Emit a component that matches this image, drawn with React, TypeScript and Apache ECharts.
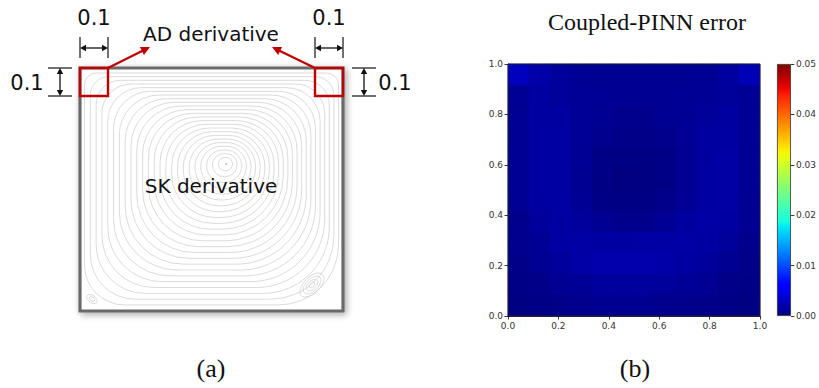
import React, { useEffect, useRef } from 'react';
import * as echarts from 'echarts';

// ---- data ----
const axisTicks = [0, 0.2, 0.4, 0.6, 0.8, 1.0];
const colorbarTicks = [0, 0.01, 0.02, 0.03, 0.04, 0.05];
const cellCenters = ['0.04', '0.13', '0.21', '0.29', '0.38', '0.46', '0.54', '0.63', '0.71', '0.79', '0.88', '0.96'];
// Coupled-PINN absolute error (x 1e-3), rows listed from y = 1 (top) down to y = 0 (bottom)
const errorRows: number[][] = [
  [2.7, 1.8, 1.2, 0.9, 0.8, 0.8, 0.8, 0.8, 0.8, 0.9, 1.4, 2.4],
  [0.9, 1.4, 1.2, 1.0, 0.9, 0.8, 0.8, 0.8, 0.9, 1.0, 1.2, 1.0],
  [0.8, 1.4, 1.4, 1.0, 0.8, 0.6, 0.6, 0.8, 0.9, 1.2, 1.4, 0.9],
  [0.8, 1.5, 1.5, 1.0, 0.6, 0.4, 0.4, 0.6, 0.9, 1.4, 1.5, 0.9],
  [0.8, 1.5, 1.5, 0.9, 0.3, 0.2, 0.2, 0.3, 0.8, 1.4, 1.6, 0.9],
  [0.8, 1.5, 1.5, 0.8, 0.2, 0.0, 0.1, 0.3, 0.8, 1.5, 1.6, 0.9],
  [0.8, 1.4, 1.5, 0.9, 0.3, 0.2, 0.2, 0.5, 0.9, 1.5, 1.6, 0.8],
  [0.6, 1.2, 1.5, 1.2, 0.8, 0.6, 0.6, 0.9, 1.4, 1.6, 1.5, 0.8],
  [0.6, 1.0, 1.5, 1.6, 1.5, 1.5, 1.6, 1.6, 1.6, 1.5, 1.2, 0.6],
  [0.4, 0.8, 1.2, 1.6, 1.9, 1.9, 1.9, 1.8, 1.5, 1.2, 0.8, 0.4],
  [0.3, 0.4, 0.8, 1.0, 1.3, 1.3, 1.3, 1.2, 1.0, 0.8, 0.4, 0.3],
  [0.1, 0.3, 0.4, 0.6, 0.7, 0.7, 0.7, 0.6, 0.6, 0.4, 0.3, 0.1],
];
const colorbarMax = 0.05;
const dimLabel = '0.1';

// ---- jet colormap (matplotlib segment data) ----
const jetR = [[0, 0], [0.35, 0], [0.66, 1], [0.89, 1], [1, 0.5]];
const jetG = [[0, 0], [0.125, 0], [0.375, 1], [0.64, 1], [0.91, 0], [1, 0]];
const jetB = [[0, 0.5], [0.11, 1], [0.34, 1], [0.65, 0], [1, 0]];
function seg(pts: number[][], t: number) {
  for (let i = 1; i < pts.length; i++) {
    if (t <= pts[i][0]) {
      const [x0, y0] = pts[i - 1];
      const [x1, y1] = pts[i];
      return y0 + ((y1 - y0) * (t - x0)) / (x1 - x0 || 1);
    }
  }
  return pts[pts.length - 1][1];
}
function jet(t: number) {
  const c = (v: number) => Math.round(Math.max(0, Math.min(1, v)) * 255);
  return `rgb(${c(seg(jetR, t))},${c(seg(jetG, t))},${c(seg(jetB, t))})`;
}
const jetColors = Array.from({ length: 201 }, (_, i) => jet(i / 200));
const jetStops = Array.from({ length: 41 }, (_, i) => ({ offset: i / 40, color: jet(i / 40) }));

// ---- drawing helpers ----
function arrowHead(x1: number, y1: number, x2: number, y2: number, len: number, hw: number, color: string) {
  const L = Math.hypot(x2 - x1, y2 - y1);
  const dx = (x2 - x1) / L, dy = (y2 - y1) / L;
  const bx = x2 - dx * len, by = y2 - dy * len;
  return {
    type: 'polygon',
    shape: { points: [[x2, y2], [bx - dy * hw, by + dx * hw], [bx + dy * hw, by - dx * hw]] },
    style: { fill: color },
    z: 50,
  };
}
function singleArrow(x1: number, y1: number, x2: number, y2: number, color: string, lw: number, len: number, hw: number) {
  const L = Math.hypot(x2 - x1, y2 - y1);
  const dx = (x2 - x1) / L, dy = (y2 - y1) / L;
  return [
    { type: 'line', shape: { x1, y1, x2: x2 - dx * len * 0.8, y2: y2 - dy * len * 0.8 }, style: { stroke: color, lineWidth: lw }, z: 50 },
    arrowHead(x1, y1, x2, y2, len, hw, color),
  ];
}
function doubleArrow(x1: number, y1: number, x2: number, y2: number) {
  const len = 6, hw = 3.2;
  const L = Math.hypot(x2 - x1, y2 - y1);
  const dx = (x2 - x1) / L, dy = (y2 - y1) / L;
  return [
    { type: 'line', shape: { x1: x1 + dx * len, y1: y1 + dy * len, x2: x2 - dx * len, y2: y2 - dy * len }, style: { stroke: '#111', lineWidth: 1.3 }, z: 50 },
    arrowHead(x1, y1, x2, y2, len, hw, '#111'),
    arrowHead(x2, y2, x1, y1, len, hw, '#111'),
  ];
}
function line(x1: number, y1: number, x2: number, y2: number, color = '#111', lw = 1.2) {
  return { type: 'line', shape: { x1, y1, x2, y2 }, style: { stroke: color, lineWidth: lw }, z: 50 };
}

function buildGraphics() {
  const els: any[] = [];
  // cavity box
  els.push({
    type: 'rect',
    shape: { x: 80, y: 68, width: 263, height: 243 },
    style: { fill: '#fff', stroke: '#6a6a6a', lineWidth: 3.2, shadowBlur: 7, shadowColor: 'rgba(0,0,0,0.35)', shadowOffsetX: 2, shadowOffsetY: 2 },
    z: 1,
  });
  // streamlines (decorative nested loops)
  const N = 24;
  for (let i = 1; i <= N; i++) {
    const t = i / N;
    const cx = 226 - 14.5 * t;
    const cy = 163 + 26 * t;
    const hw = 2 + 125 * t;
    const hh = 2 + 114 * t;
    const m = Math.min(hw, hh);
    const k = Math.pow(t, 1.6);
    const r = [m * (1 - k) + 12 * k, m * (1 - k) + 12 * k, m * (1 - k) + 60 * k, m * (1 - k) + 40 * k];
    els.push({
      type: 'rect',
      shape: { x: cx - hw, y: cy - hh, width: hw * 2, height: hh * 2, r },
      style: { fill: 'none', stroke: '#cfcfcf', lineWidth: 0.75 },
      z: 2,
    });
  }
  els.push({ type: 'circle', shape: { cx: 226, cy: 164, r: 0.8 }, style: { fill: '#aaa' }, z: 2 });
  // corner eddies
  [[15, 8], [11, 6], [7, 4], [3.5, 2]].forEach(([rx, ry]) => {
    els.push({ type: 'ellipse', x: 312, y: 285, rotation: Math.PI / 4, shape: { cx: 0, cy: 0, rx, ry }, style: { fill: 'none', stroke: '#cfcfcf', lineWidth: 0.75 }, z: 2 });
  });
  [[6, 3.5], [3, 1.8]].forEach(([rx, ry]) => {
    els.push({ type: 'ellipse', x: 92, y: 299, rotation: -Math.PI / 5, shape: { cx: 0, cy: 0, rx, ry }, style: { fill: 'none', stroke: '#cfcfcf', lineWidth: 0.75 }, z: 2 });
  });
  // red boxes
  els.push({ type: 'rect', shape: { x: 80, y: 68, width: 28, height: 28 }, style: { fill: 'none', stroke: '#c00000', lineWidth: 2.4 }, z: 40 });
  els.push({ type: 'rect', shape: { x: 315, y: 68, width: 28, height: 28 }, style: { fill: 'none', stroke: '#c00000', lineWidth: 2.4 }, z: 40 });
  // red arrows
  els.push(...singleArrow(108, 68, 150, 47, '#c00000', 2.2, 9, 4.5));
  els.push(...singleArrow(315, 68, 272, 47, '#c00000', 2.2, 9, 4.5));
  // dimension marks: top
  els.push(line(80, 37, 80, 58), line(108, 37, 108, 58), ...doubleArrow(80, 48, 108, 48));
  els.push(line(315, 37, 315, 58), line(343, 37, 343, 58), ...doubleArrow(315, 48, 343, 48));
  // dimension marks: sides
  els.push(line(48, 68, 72, 68), line(48, 96, 72, 96), ...doubleArrow(60, 68, 60, 96));
  els.push(line(352, 68, 376, 68), line(352, 96, 376, 96), ...doubleArrow(364, 68, 364, 96));
  // texts
  const sans = 'DejaVu Sans';
  const txt = (x: number, y: number, text: string, size: number, family = sans) => ({
    type: 'text', x, y, z: 60,
    style: { text, fontSize: size, fontFamily: family, fill: '#111', textAlign: 'center', textVerticalAlign: 'middle' },
  });
  els.push(txt(94, 18, dimLabel, 21), txt(329, 18, dimLabel, 21), txt(27, 83, dimLabel, 21), txt(395, 83, dimLabel, 21));
  els.push(txt(211, 34, 'AD derivative', 20), txt(211, 186, 'SK derivative', 20));
  els.push(txt(211, 368, '(a)', 26, 'Liberation Serif'), txt(635, 368, '(b)', 26, 'Liberation Serif'));
  els.push(txt(647, 22, 'Coupled-PINN error', 24, 'Liberation Serif'));
  // heatmap frame
  els.push({ type: 'rect', shape: { x: 508, y: 64, width: 252, height: 252 }, style: { fill: 'none', stroke: '#222', lineWidth: 0.9 }, z: 100 });
  return els;
}

export default function App() {
  const ref = useRef<HTMLDivElement>(null);
  useEffect(() => {
    document.body.style.margin = '0';
    if (!ref.current) return;
    const chart = echarts.init(ref.current, undefined, { renderer: 'svg' });
    const heatData: number[][] = [];
    errorRows.forEach((row, r) => {
      row.forEach((v, c) => heatData.push([c, errorRows.length - 1 - r, v * 0.001]));
    });
    const labelStyle = { fontSize: 9, color: '#333', fontFamily: 'DejaVu Sans' };
    const valueAxisCommon = {
      axisLine: { show: true, lineStyle: { color: '#222', width: 0.9 } },
      axisTick: { show: true, length: 3.5, lineStyle: { color: '#222', width: 0.9 } },
      splitLine: { show: false },
    };
    chart.setOption({
      animation: false,
      backgroundColor: '#fff',
      grid: [
        { left: 508, top: 64, width: 252, height: 252 },
        { left: 777, top: 64, width: 14, height: 252 },
      ],
      xAxis: [
        { type: 'category', gridIndex: 0, data: cellCenters, show: false },
        {
          type: 'value', gridIndex: 0, min: 0, max: 1, interval: 0.2, position: 'bottom',
          ...valueAxisCommon,
          axisLabel: { ...labelStyle, margin: 5, formatter: (v: number) => (axisTicks.includes(+v.toFixed(1)) ? v.toFixed(1) : '') },
        },
        { type: 'category', gridIndex: 1, data: ['cb'], show: false },
      ],
      yAxis: [
        { type: 'category', gridIndex: 0, data: cellCenters, show: false },
        {
          type: 'value', gridIndex: 0, min: 0, max: 1, interval: 0.2, position: 'left',
          ...valueAxisCommon,
          axisLabel: { ...labelStyle, margin: 5, formatter: (v: number) => v.toFixed(1) },
        },
        {
          type: 'value', gridIndex: 1, min: 0, max: colorbarMax, interval: 0.01, position: 'right',
          ...valueAxisCommon,
          axisLine: { show: false },
          axisLabel: { ...labelStyle, margin: 5, formatter: (v: number) => (colorbarTicks.some((t) => Math.abs(t - v) < 1e-9) ? v.toFixed(2) : '') },
        },
      ],
      visualMap: {
        show: false, min: 0, max: colorbarMax, seriesIndex: 0, inRange: { color: jetColors },
      },
      series: [
        { type: 'heatmap', xAxisIndex: 0, yAxisIndex: 0, data: heatData, silent: true },
        {
          type: 'bar', xAxisIndex: 2, yAxisIndex: 2, data: [colorbarMax], barWidth: '100%', silent: true,
          itemStyle: { color: new echarts.graphic.LinearGradient(0, 1, 0, 0, jetStops), borderColor: '#333', borderWidth: 0.8 },
        },
      ],
      graphic: buildGraphics(),
    });
    return () => chart.dispose();
  }, []);
  return <div ref={ref} style={{ width: 819, height: 388 }} />;
}
